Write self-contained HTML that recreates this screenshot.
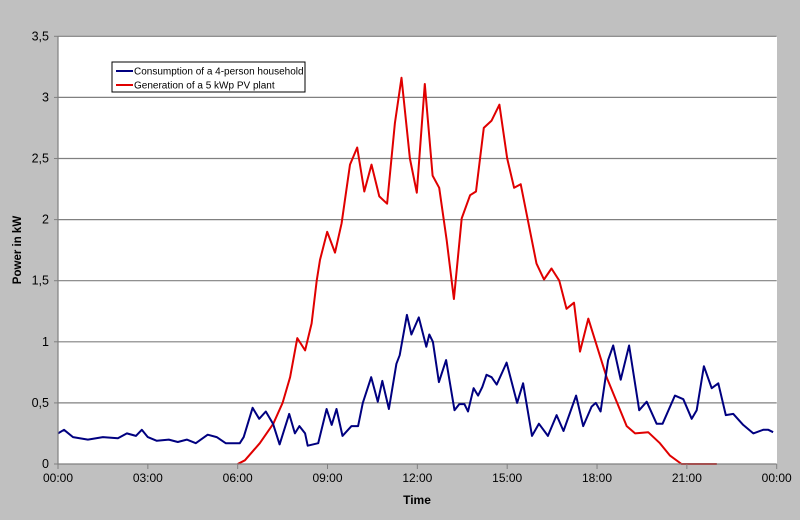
<!DOCTYPE html>
<html><head><meta charset="utf-8"><style>
html,body{margin:0;padding:0;background:#c0c0c0;}
svg{display:block;font-family:"Liberation Sans","DejaVu Sans",sans-serif;}
</style></head><body>
<svg id="chart" width="800" height="520" viewBox="0 0 800 520">
<rect x="0" y="0" width="800" height="520" fill="#c0c0c0"/>
<rect x="58" y="36" width="719" height="428" fill="#ffffff"/>
<g id="grid"></g>
<g id="series"></g>
<g id="axes"></g>
<text x="21" y="250" transform="rotate(-90 21 250)" text-anchor="middle" font-size="11.5" font-weight="bold" fill="#000">Power in kW</text>
<text x="417" y="504" text-anchor="middle" font-size="12" font-weight="bold" fill="#000">Time</text>
<g>
<rect x="112" y="62" width="193" height="30" fill="#fff" stroke="#000" stroke-width="1"/>
<line x1="116" y1="71" x2="133" y2="71" stroke="#000080" stroke-width="2"/>
<text x="134" y="74.5" font-size="10" fill="#000">Consumption of a 4-person household</text>
<line x1="116" y1="85" x2="133" y2="85" stroke="#e00000" stroke-width="2"/>
<text x="134" y="88.5" font-size="10" fill="#000">Generation of a 5 kWp PV plant</text>
</g>
</svg>
<script>
const yTicks=[0,0.5,1,1.5,2,2.5,3,3.5];
const yTickLabels=["0","0,5","1","1,5","2","2,5","3","3,5"];
const xTicks=[0,3,6,9,12,15,18,21,24];
const xTickLabels=["00:00","03:00","06:00","09:00","12:00","15:00","18:00","21:00","00:00"];
const consHours=[0,0.2,0.5,1,1.5,2,2.3,2.6,2.8,3.0,3.3,3.7,4,4.3,4.6,5,5.3,5.6,6.07,6.2,6.5,6.72,6.94,7.18,7.4,7.72,7.91,8.06,8.25,8.34,8.69,8.97,9.14,9.3,9.5,9.8,10.02,10.18,10.46,10.68,10.83,11.05,11.3,11.41,11.65,11.8,12.05,12.3,12.4,12.52,12.72,12.96,13.24,13.4,13.57,13.69,13.88,14.03,14.17,14.31,14.48,14.65,14.98,15.33,15.53,15.83,16.06,16.36,16.65,16.88,17.3,17.54,17.82,17.96,18.12,18.37,18.54,18.79,19.07,19.41,19.66,19.99,20.19,20.6,20.88,21.16,21.33,21.57,21.83,22.05,22.3,22.55,22.88,23.22,23.55,23.72,23.88];
const consValues=[0.25,0.28,0.22,0.2,0.22,0.21,0.25,0.23,0.28,0.22,0.19,0.2,0.18,0.2,0.17,0.24,0.22,0.17,0.17,0.22,0.46,0.37,0.43,0.33,0.16,0.41,0.25,0.31,0.25,0.15,0.17,0.45,0.32,0.45,0.23,0.31,0.31,0.5,0.71,0.51,0.68,0.45,0.82,0.89,1.22,1.06,1.2,0.96,1.06,1.0,0.67,0.85,0.44,0.49,0.49,0.43,0.62,0.56,0.63,0.73,0.71,0.65,0.83,0.5,0.66,0.23,0.33,0.23,0.4,0.27,0.56,0.31,0.47,0.5,0.43,0.85,0.97,0.69,0.97,0.44,0.51,0.33,0.33,0.56,0.53,0.37,0.44,0.8,0.62,0.66,0.4,0.41,0.32,0.25,0.28,0.28,0.26];
const genHours=[6.0,6.24,6.74,7.19,7.5,7.75,7.99,8.25,8.47,8.64,8.75,8.99,9.25,9.47,9.75,9.99,10.23,10.47,10.73,10.99,11.25,11.47,11.75,11.98,12.25,12.51,12.73,12.98,13.22,13.48,13.76,13.96,14.22,14.48,14.74,15.0,15.23,15.45,15.98,16.23,16.48,16.74,16.98,17.23,17.43,17.71,18.32,18.99,19.27,19.71,20.1,20.43,20.82,22.0];
const genValues=[0,0.03,0.17,0.33,0.5,0.71,1.03,0.93,1.15,1.5,1.67,1.9,1.73,1.97,2.45,2.59,2.23,2.45,2.19,2.13,2.79,3.16,2.5,2.22,3.11,2.36,2.26,1.83,1.35,2.01,2.2,2.23,2.75,2.81,2.94,2.5,2.26,2.29,1.64,1.51,1.6,1.5,1.27,1.32,0.92,1.19,0.71,0.31,0.25,0.26,0.17,0.07,0,0];

const X0=58,X1=776.7,Y0=464,Y1=36.3;
const xScale=h=>X0+(h/24)*(X1-X0);
const yScale=v=>Y0-(v/3.5)*(Y0-Y1);
const NS="http://www.w3.org/2000/svg";
function mk(tag,attrs,parent){const e=document.createElementNS(NS,tag);for(const k in attrs)e.setAttribute(k,attrs[k]);parent.appendChild(e);return e;}
const grid=document.getElementById('grid'),axes=document.getElementById('axes'),series=document.getElementById('series');
yTicks.forEach((v,i)=>{
  const y=yScale(v);
  if(v>0){const l=mk('line',{x1:X0,x2:X1,y1:y,y2:y,stroke:'#808080','stroke-width':1.2},grid);
  
  }
  const t=mk('line',{x1:X0-4,x2:X0,y1:y,y2:y,stroke:'#808080','stroke-width':1},axes);
  
  
  const tx=mk('text',{x:X0-9,y:y+4,'text-anchor':'end','font-size':12.5,fill:'#000'},axes);
  tx.textContent=yTickLabels[i];
  
  
});
xTicks.forEach((h,i)=>{
  const x=xScale(h);
  const t=mk('line',{x1:x,x2:x,y1:Y0,y2:Y0+5,stroke:'#808080','stroke-width':1},axes);
  
  
  const tx=mk('text',{x:x,y:Y0+18,'text-anchor':'middle','font-size':12,fill:'#000'},axes);
  tx.textContent=xTickLabels[i];
  
  
});
const ax=mk('path',{d:`M${X0},${Y1}V${Y0}H${X1}`,fill:'none',stroke:'#808080','stroke-width':1.2},axes);


function linePath(hs,vs){return hs.map((h,i)=>(i?'L':'M')+xScale(h).toFixed(1)+','+yScale(vs[i]).toFixed(1)).join('');}
const g=mk('path',{d:linePath(genHours,genValues),fill:'none',stroke:'#e00000','stroke-width':2,'stroke-linejoin':'round'},series);


const c=mk('path',{d:linePath(consHours,consValues),fill:'none',stroke:'#000080','stroke-width':2,'stroke-linejoin':'round'},series);


</script>
</body></html>
